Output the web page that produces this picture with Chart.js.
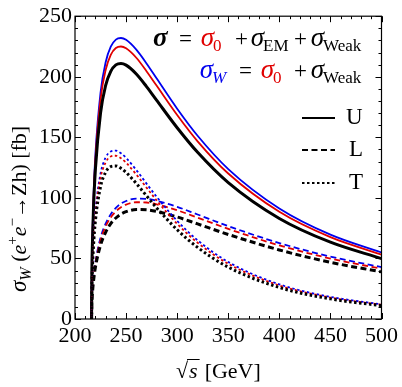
<!DOCTYPE html>
<html>
<head>
<meta charset="utf-8">
<script src="https://cdn.jsdelivr.net/npm/chart.js@4"></script>
<style>
body{margin:0;background:#fff;}
#wrap{width:402px;height:387px;position:relative;}
</style>
</head>
<body>
<div id="wrap"><canvas id="c"></canvas></div>
<script>
/* data: sqrt(s) in GeV, cross sections in fb */

const energy=[216.2,216.5,217,218,220,225,230,235,240,245,250,260,270,280,300,320,350,400,450,500];

// black = sigma (full), red = sigma_0, blue = sigma_W
const uBlack=[0,38.1,60.9,89.2,124.0,170.1,192.8,204.5,209.8,211.0,209.6,202.3,191.9,180.5,157.9,137.6,112.6,83.0,63.4,49.9];
const uRed=[0,40.6,64.9,95.1,132.2,181.4,205.6,218.1,223.7,225.0,223.5,215.7,204.6,192.5,168.4,146.7,120.1,88.5,67.6,53.2];
const uBlue=[0,41.9,67.0,98.1,136.3,187.0,212.0,224.8,230.7,232.0,230.5,222.4,211.0,198.5,173.6,151.3,123.8,91.3,69.7,54.9];

const lBlack=[0,12.7,20.4,30.2,42.7,60.9,71.6,78.7,83.4,86.6,88.6,90.4,90.2,88.8,84.2,78.5,69.8,57.0,46.8,38.9];
const lRed=[0,13.5,21.8,32.2,45.5,64.9,76.4,83.9,88.9,92.3,94.5,96.4,96.2,94.7,89.8,83.7,74.4,60.8,49.9,41.5];
const lBlue=[0,14.0,22.4,33.2,46.9,67.0,78.7,86.5,91.7,95.2,97.4,99.4,99.2,97.6,92.6,86.3,76.7,62.7,51.5,42.8];

const tBlack=[0,25.4,40.5,59.0,81.3,109.2,121.2,125.8,126.4,124.4,121.0,111.9,101.7,91.7,73.7,59.1,42.8,26.0,16.6,11.0];
const tRed=[0,27.1,43.2,62.9,86.7,116.5,129.2,134.2,134.8,132.7,129.0,119.3,108.5,97.8,78.6,63.0,45.6,27.7,17.7,11.7];
const tBlue=[0,27.9,44.5,64.9,89.4,120.1,133.3,138.3,139.0,136.8,133.0,123.0,111.8,100.8,81.0,65.0,47.1,28.6,18.3,12.1];

const xTicks=[200,250,300,350,400,450,500];
const yTicks=[0,50,100,150,200,250];

/* helpers */

const SERIF="'Liberation Serif','Times New Roman',serif";

function pts(ys){
return energy.map((e,i)=>({x:e,y:ys[i]}));
}

function curve(ys,color,width,dash){
return {
data:pts(ys),
borderColor:color,
borderWidth:width,
borderDash:dash,
pointRadius:0,
fill:false,
cubicInterpolationMode:"monotone",
borderCapStyle:"butt"
};
}

const DASH=[6,3.5];
const DOT=[2.5,2.5];

const RED="#e00000", BLUE="#0000ee";

// run of text pieces: [text, font, color, dy]
function rich(ctx,x,y,parts){
ctx.textBaseline="alphabetic";
ctx.textAlign="left";
for(const p of parts){
ctx.font=p[1];
ctx.fillStyle=p[2]||"#000";
ctx.fillText(p[0],x,y+(p[3]||0));
x+=ctx.measureText(p[0]).width;
}
return x;
}

// pieces at fixed x: [text, font, color, x, y]
function placed(ctx,parts){
ctx.textBaseline="alphabetic";
ctx.textAlign="left";
for(const p of parts){
ctx.font=p[1];
ctx.fillStyle=p[2];
ctx.fillText(p[0],p[3],p[4]);
}
}

// sigma with a subscript, sigma ends where subscript starts
function sigmaSub(ctx,font,subFont,color,subX,base,txt){
ctx.font=font;
const w=ctx.measureText("\u03C3").width;
ctx.fillStyle=color;
ctx.fillText("\u03C3",subX-w+1,base);
ctx.font=subFont;
ctx.fillText(txt,subX,base+5);
}

/* frame, inner ticks, legend and axis titles */

const decor={
id:"decor",
afterDraw(chart){
const ctx=chart.ctx;
const a=chart.chartArea;
const xs=chart.scales.x, ys=chart.scales.y;

ctx.save();
ctx.strokeStyle="#000";
ctx.lineWidth=1.2;
ctx.setLineDash([]);
ctx.strokeRect(a.left,a.top,a.right-a.left,a.bottom-a.top);

ctx.lineWidth=1;
ctx.beginPath();
for(let v=200;v<=500;v+=10){
const px=Math.round(xs.getPixelForValue(v))+0.5;
const len=(v%50===0)?6:3;
ctx.moveTo(px,a.bottom);ctx.lineTo(px,a.bottom-len);
ctx.moveTo(px,a.top);ctx.lineTo(px,a.top+len);
}
for(let v=0;v<=250;v+=10){
const py=Math.round(ys.getPixelForValue(v))+0.5;
const len=(v%50===0)?6:3;
ctx.moveTo(a.left,py);ctx.lineTo(a.left+len,py);
ctx.moveTo(a.right,py);ctx.lineTo(a.right-len,py);
}
ctx.stroke();

// formula legend
const big="italic 27px "+SERIF;
const bigB="italic bold 27px "+SERIF;
const up="23px "+SERIF;
const sub="17px "+SERIF;
const subI="italic 17px "+SERIF;
const b1=45.5, b2=78;
placed(ctx,[
["\u03C3",bigB,"#000",153,b1],
["=",up,"#000",179,b1],
["+",up,"#000",235,b1],
["+",up,"#000",294,b1],
["=",up,"#000",239,b2],
["+",up,"#000",294,b2]
]);
sigmaSub(ctx,big,sub,RED,213,b1,"0");
sigmaSub(ctx,big,sub,"#000",263,b1,"EM");
sigmaSub(ctx,big,sub,"#000",323,b1,"Weak");
sigmaSub(ctx,big,subI,BLUE,212,b2,"W");
sigmaSub(ctx,big,sub,RED,273,b2,"0");
sigmaSub(ctx,big,sub,"#000",323,b2,"Weak");

// line style legend
const leg=[["U",[],118],["L",DASH,150],["T",DOT,183]];
ctx.lineWidth=2;
ctx.strokeStyle="#000";
for(const it of leg){
ctx.setLineDash(it[1]);
ctx.beginPath();
ctx.moveTo(302,it[2]);ctx.lineTo(335,it[2]);
ctx.stroke();
}
ctx.setLineDash([]);
ctx.font="23px "+SERIF;
ctx.fillStyle="#000";
ctx.textBaseline="middle";
ctx.fillText("U",346,leg[0][2]);
ctx.fillText("L",349,leg[1][2]);
ctx.fillText("T",349,leg[2][2]);

// x title: sqrt(s) [GeV]
ctx.textBaseline="alphabetic";
ctx.font="22px "+SERIF;
ctx.fillText("\u221A",176,378);
const rx=176+ctx.measureText("\u221A").width;
ctx.font="italic 22px "+SERIF;
ctx.fillText("s",rx+1,378);
const sw=ctx.measureText("s").width;
ctx.lineWidth=1;
ctx.beginPath();
ctx.moveTo(rx-1,359.5);ctx.lineTo(rx+sw+3,359.5);
ctx.stroke();
rich(ctx,rx+sw+8,378,[["[GeV]","22px "+SERIF,"#000"]]);

// y title, rotated
ctx.translate(26,292);
ctx.rotate(-Math.PI/2);
rich(ctx,0,0,[
["\u03C3","italic 23px "+SERIF],["W","italic 16px "+SERIF,"#000",5],
[" (","22px "+SERIF],
["e","italic 22px "+SERIF],["+","15px "+SERIF,"#000",-9],
["e","italic 22px "+SERIF],["\u2212","15px "+SERIF,"#000",-9],
["\u2192Zh) [fb]","22px "+SERIF]
]);
ctx.restore();
}
};

/* chart */

const ctx=document.getElementById("c");

const chart=new Chart(ctx,{
type:"line",
data:{
datasets:[
curve(tBlack,"#000",3,DOT),
curve(tRed,RED,1.8,DOT),
curve(tBlue,BLUE,1.8,DOT),
curve(lBlack,"#000",3,DASH),
curve(lRed,RED,1.8,DASH),
curve(lBlue,BLUE,1.8,DASH),
curve(uBlack,"#000",3,[]),
curve(uRed,RED,1.8,[]),
curve(uBlue,BLUE,1.8,[])
]
},
options:{
responsive:true,
maintainAspectRatio:false,
animation:false,
layout:{padding:{top:12,right:19,left:0,bottom:0}},
plugins:{legend:{display:false},tooltip:{enabled:false}},
scales:{
x:{
type:"linear",
min:200,max:500,
afterBuildTicks:s=>{s.ticks=xTicks.map(v=>({value:v}));},
afterFit:s=>{s.height=68;},
grid:{display:false,drawTicks:false},
border:{display:false},
ticks:{color:"#000",padding:4,maxRotation:0,font:{family:SERIF,size:22}}
},
y:{
min:0,max:250,
afterBuildTicks:s=>{s.ticks=yTicks.map(v=>({value:v}));},
afterFit:s=>{s.width=75;},
grid:{display:false,drawTicks:false},
border:{display:false},
ticks:{color:"#000",padding:3,font:{family:SERIF,size:22}}
}
}
},
plugins:[decor]
});
</script>
</body>
</html>
